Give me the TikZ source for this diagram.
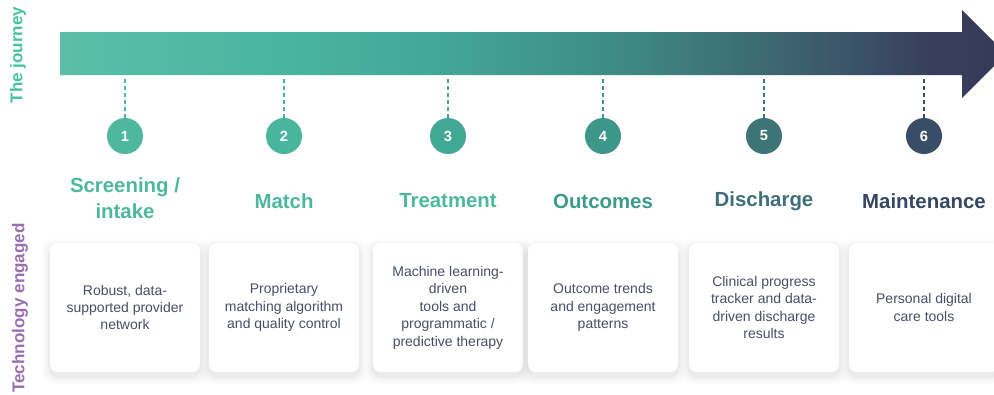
\documentclass[tikz,border=0pt]{standalone}
\usepackage{fontspec}
\setmainfont{Liberation Sans}
\usetikzlibrary{calc}
\definecolor{g0}{HTML}{5CBEA7}
\definecolor{g1}{HTML}{48B5A0}
\definecolor{g2}{HTML}{43A597}
\definecolor{g3}{HTML}{3E8D85}
\definecolor{g4}{HTML}{3D6872}
\definecolor{g5}{HTML}{383F5C}
\definecolor{g6}{HTML}{363A5A}
\definecolor{c1}{HTML}{4DB89E}
\definecolor{c2}{HTML}{49B59C}
\definecolor{c3}{HTML}{42A896}
\definecolor{c4}{HTML}{3C968A}
\definecolor{c5}{HTML}{3E7378}
\definecolor{c6}{HTML}{374E66}
\definecolor{tA}{HTML}{4DB89E}
\definecolor{tB}{HTML}{3E9A8C}
\definecolor{tC}{HTML}{3F6F79}
\definecolor{tD}{HTML}{354761}
\definecolor{cardtext}{HTML}{4A4E66}
\definecolor{journeycol}{HTML}{48C2A0}
\definecolor{techcol}{HTML}{9A6FB0}
\pgfdeclarehorizontalshading{journeyshade}{100bp}{color(0bp)=(g0); color(25bp)=(g0); color(37bp)=(g1); color(45.5bp)=(g2); color(54bp)=(g3); color(62.5bp)=(g4); color(71bp)=(g5); color(75bp)=(g6); color(100bp)=(g6)}
\tikzset{
  stepcircle/.style={circle, minimum size=36*0.75pt, inner sep=0pt, text=white, font=\bfseries\fontsize{11}{13}\selectfont},
  steptitle/.style={font=\bfseries\fontsize{15.3}{19.5}\selectfont, align=center},
  cardbox/.style={rounded corners=6pt, fill=white},
  cardtxt/.style={text=cardtext, align=center, font=\fontsize{10.5}{13.1}\selectfont},
  dashline/.style={dashed, dash pattern=on 3pt off 2.2pt, line width=1pt},
  sidelabel/.style={rotate=90, font=\bfseries\fontsize{12.8}{15}\selectfont}
}
\begin{document}
\begin{tikzpicture}[x=0.75pt,y=-0.75pt]
\useasboundingbox (0,0) rectangle (994,394);
\clip (0,0) rectangle (994,394);
\fill[white] (0,0) rectangle (994,394);
% arrow
\path[shading=journeyshade] (60,32) -- (962,32) -- (962,10) -- (1006,54) -- (962,98) -- (962,75) -- (60,75) -- cycle;
% side labels
\node[sidelabel, text=journeycol] (lj) at (18,55) {The journey};
\node[sidelabel, text=techcol] (lt) at (20,308) {Technology engaged};
% steps
\foreach \i/\x/\cc/\tc/\ttl/\ty/\txt in {
  1/125/c1/tA/{Screening /\\intake}/198/{Robust, data-\\supported provider\\network},
  2/284/c2/tA/{Match}/201/{Proprietary\\matching algorithm\\and quality control},
  3/448/c3/tA/{Treatment}/201/{Machine learning-\\driven\\tools and\\programmatic /\\predictive therapy},
  4/603/c4/tB/{Outcomes}/201/{Outcome trends\\and engagement\\patterns},
  5/764/c5/tC/{Discharge}/201/{Clinical progress\\tracker and data-\\driven discharge\\results},
  6/924/c6/tD/{Maintenance}/201/{Personal digital\\care tools}}{
  \coordinate (top\i) at (\x,79);
  \node[stepcircle, fill=\cc] (c\i) at (\x,136) {\i};
  \draw[dashline, draw=\cc] (top\i) -- (c\i.north);
  \node[steptitle, text=\tc] (t\i) at (\x,\ty) {\ttl};
  % card with soft shadow
  \foreach \s/\o in {8/0.01,6/0.015,4/0.02,2/0.03}{
    \fill[black, opacity=\o, rounded corners=8pt] (\x-75-\s,243-\s+4) rectangle (\x+75+\s,372+\s+4);
  }
  \node[cardbox, minimum width=150*0.75pt, minimum height=129*0.75pt] (k\i) at (\x,307.5) {};
  \node[cardtxt] (kt\i) at (k\i.center) {\txt};
}
\end{tikzpicture}
\end{document}
